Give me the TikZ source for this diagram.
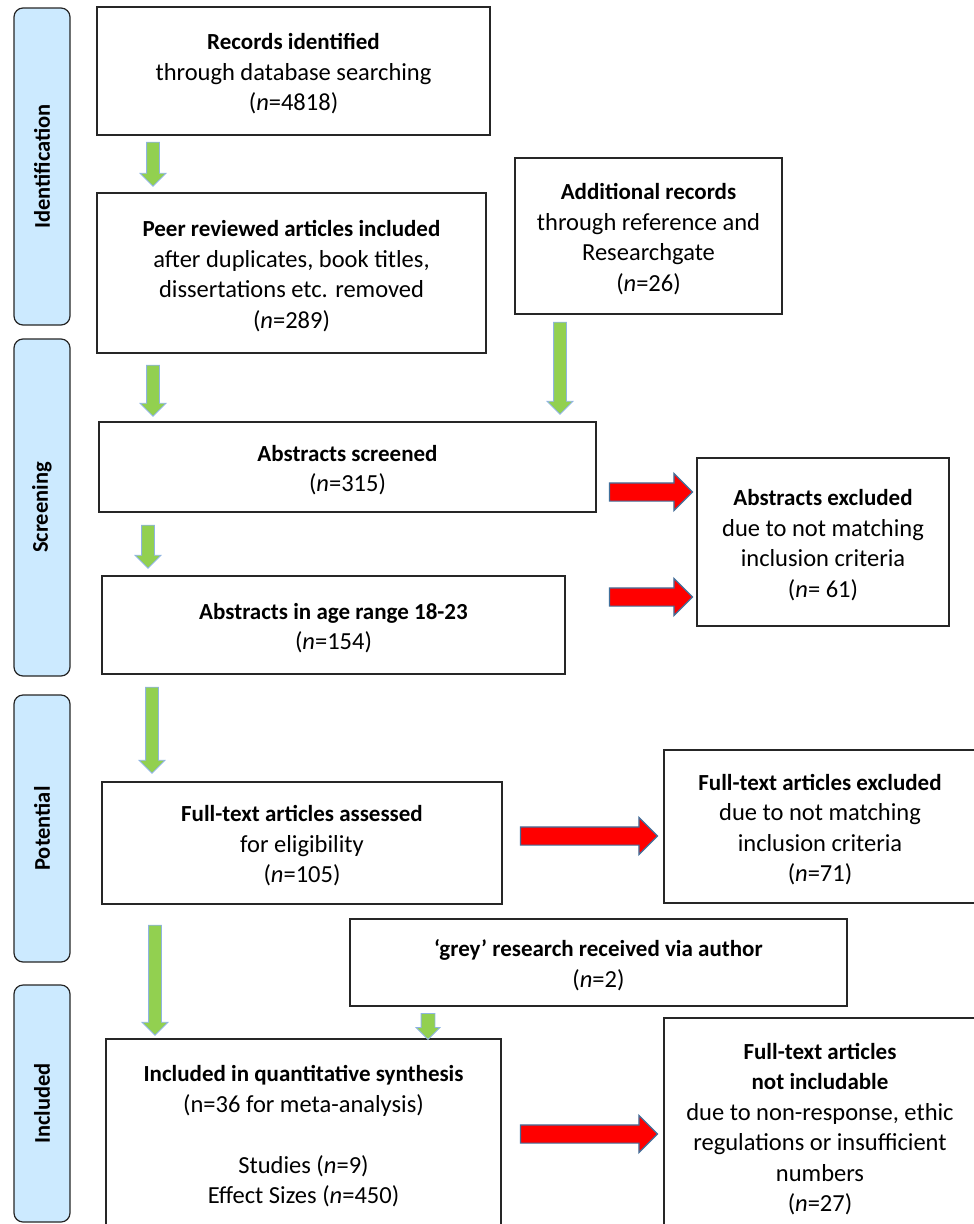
\documentclass[tikz,border=0pt]{standalone}
\usepackage{fontspec}
\setmainfont{Carlito}
\usetikzlibrary{shapes.arrows}

\definecolor{boxline}{RGB}{38,38,38}
\definecolor{stagefill}{RGB}{204,234,255}
\definecolor{greenfill}{RGB}{146,208,80}
\definecolor{greenedge}{RGB}{143,180,226}
\definecolor{redfill}{RGB}{255,0,0}
\definecolor{rededge}{RGB}{65,113,156}

% bold first line of a box
\newcommand{\hd}[1]{{\fontsize{23}{30.5}\selectfont\bfseries\rule{0pt}{22pt}#1}}

\tikzset{
  box/.style={draw=boxline, line width=1.6pt, inner sep=0pt, align=center,
    font=\fontsize{24.5}{30.5}\selectfont},
  stage/.style={draw=boxline, fill=stagefill, line width=1.2pt, rounded corners=9pt,
    rotate=90, minimum height=56pt, inner sep=0pt, font=\fontsize{22.5}{26}\selectfont\bfseries},
  greenarrow/.style={single arrow, draw=greenedge, fill=greenfill, line width=0.8pt,
    shape border rotate=270, inner sep=6pt, single arrow head extend=6.5pt},
  redarrow/.style={single arrow, draw=rededge, fill=redfill, line width=1.2pt,
    inner sep=8.5pt, single arrow head extend=9.5pt},
}

\begin{document}
\begin{tikzpicture}[x=1pt, y=-1pt]
        \useasboundingbox (0,0) rectangle (974,1224);
        \clip (0,0) rectangle (974,1224);

        % Stages on the left
        \node[stage, minimum width=317pt] (sIdent) at (42,166.5) {Identification};
        \node[stage, minimum width=337pt] (sScreen) at (42,507.5) {Screening};
        \node[stage, minimum width=267pt] (sPot) at (42,828.5) {Potential};
        \node[stage, minimum width=237pt] (sIncl) at (42,1103.5) {Included};

        % Identification
        \node[box, minimum width=393pt, minimum height=128pt] (rec) at (293.5,71)
          {\hd{Records identified}\\ through database searching\\ (\textit{n}=4818)};
        \node[box, minimum width=389pt, minimum height=160pt] (peer) at (291.5,273)
          {\hd{Peer reviewed articles included}\\ after duplicates, book titles,\\ dissertations etc. removed\\ (\textit{n}=289)};
        \node[box, minimum width=267pt, minimum height=156pt] (add) at (648.5,236)
          {\hd{Additional records}\\ through reference and\\ Researchgate\\ (\textit{n}=26)};

        % Screening
        \node[box, minimum width=497pt, minimum height=90pt] (scr) at (347.5,467)
          {\hd{Abstracts screened}\\ (\textit{n}=315)};
        \node[box, minimum width=463pt, minimum height=98pt] (age) at (333.5,625)
          {\hd{Abstracts in age range 18-23}\\ (\textit{n}=154)};
        \node[box, minimum width=252pt, minimum height=168pt] (absex) at (823,542)
          {\hd{Abstracts excluded}\\ due to not matching\\ inclusion criteria\\ (\textit{n}= 61)};

        % Potential
        \node[box, minimum width=400pt, minimum height=122pt] (full) at (302,843)
          {\hd{Full-text articles assessed}\\ for eligibility\\ (\textit{n}=105)};
        \node[box, minimum width=312pt, minimum height=153pt] (fullex) at (820,826.5)
          {\hd{Full-text articles excluded}\\ due to not matching\\ inclusion criteria\\ (\textit{n}=71)};
        \node[box, minimum width=497pt, minimum height=87pt] (grey) at (598.5,962.5)
          {\hd{`grey' research received via author}\\ (\textit{n}=2)};

        % Included (boxes run off the page)
        \node[box, minimum width=395pt, minimum height=189pt] (incl) at (303.5,1133.5)
          {\hd{Included in quantitative synthesis}\\ (n=36 for meta-analysis)\\[30.5pt]
           Studies (\textit{n}=9)\\ Effect Sizes (\textit{n}=450)};
        \node[box, minimum width=312pt, minimum height=216pt] (notinc) at (820,1126)
          {\hd{Full-text articles}\\ \hd{not includable}\\ due to non-response, ethic\\
           regulations or insufficient\\ numbers\\ (\textit{n}=27)};

        % Green arrows down
        \node[greenarrow, minimum height=44pt] (g1) at (153,161) {};
        \node[greenarrow, minimum height=51pt] (g2) at (153,387.5) {};
        \node[greenarrow, minimum height=92pt] (g3) at (560,365) {};
        \node[greenarrow, minimum height=43pt] (g4) at (148,543.5) {};
        \node[greenarrow, minimum height=86pt] (g5) at (152,727) {};
        \node[greenarrow, minimum height=110pt] (g6) at (155,977) {};
        \node[greenarrow, minimum height=26pt, inner sep=6.5pt, single arrow head extend=5pt] (g7) at (428,1023) {};

        % Red arrows right
        \node[redarrow, minimum height=83pt] (r1) at (646.5,492) {};
        \node[redarrow, minimum height=83pt] (r2) at (646.5,597) {};
        \node[redarrow, minimum height=137pt] (r3) at (584.5,836) {};
        \node[redarrow, minimum height=137pt] (r4) at (584.5,1134) {};
    \end{tikzpicture}
\end{document}
